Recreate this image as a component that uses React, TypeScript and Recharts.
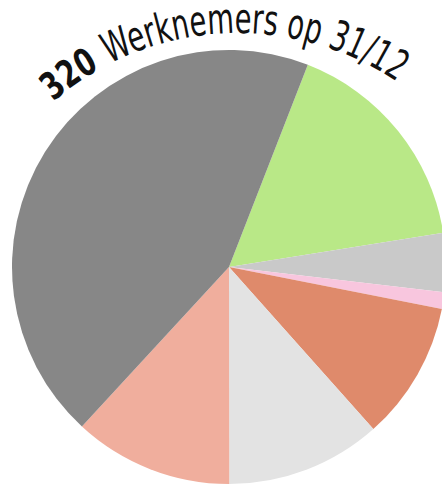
import React from "react";
import { PieChart, Pie, Cell } from "recharts";

const categories = ["Groen", "Grijs licht", "Roze", "Oranje", "Lichtgrijs", "Zalm", "Grijs"];
const values = [53, 14, 4, 33, 37, 38, 141];
const colors = ["#b9e887", "#c9c9c9", "#f8c6de", "#df8a6b", "#e3e3e3", "#f0ae9d", "#878787"];
const titleBold = "320";
const titleRest = "Werknemers op 31/12";

const data = categories.map((name, i) => ({ name, value: values[i] }));

export default function App() {
  const arcPath = "M 37.9 115.9 A 283 283 0 0 1 438.1 115.9";
  const font = "'DejaVu Sans Condensed', 'DejaVu Sans', sans-serif";
  return (
    <div style={{ position: "fixed", left: 0, top: 0, width: 442, height: 484, background: "#fff" }}>
      <PieChart width={442} height={484} margin={{ top: 0, right: 0, bottom: 0, left: 0 }}>
        <Pie
          data={data}
          dataKey="value"
          nameKey="name"
          cx={229}
          cy={267}
          outerRadius={217}
          innerRadius={0}
          startAngle={68.7}
          endAngle={-291.3}
          stroke="none"
          isAnimationActive={false}
        >
          {data.map((d, i) => (
            <Cell key={d.name} fill={colors[i]} />
          ))}
        </Pie>
      </PieChart>
      <svg width={442} height={484} style={{ position: "absolute", left: 0, top: 0, pointerEvents: "none" }}>
        <defs>
          <path id="titleArc" d={arcPath} fill="none" />
        </defs>
        <text fontFamily={font} fontStretch="condensed" fontWeight="bold" fontSize={38} fill="#111">
          <textPath href="#titleArc" startOffset={21} textLength={57} lengthAdjust="spacingAndGlyphs">
            {titleBold}
          </textPath>
        </text>
        <text fontFamily={font} fontStretch="condensed" fontSize={42} fill="#111">
          <textPath href="#titleArc" startOffset={89} textLength={302} lengthAdjust="spacingAndGlyphs">
            {titleRest}
          </textPath>
        </text>
      </svg>
    </div>
  );
}
